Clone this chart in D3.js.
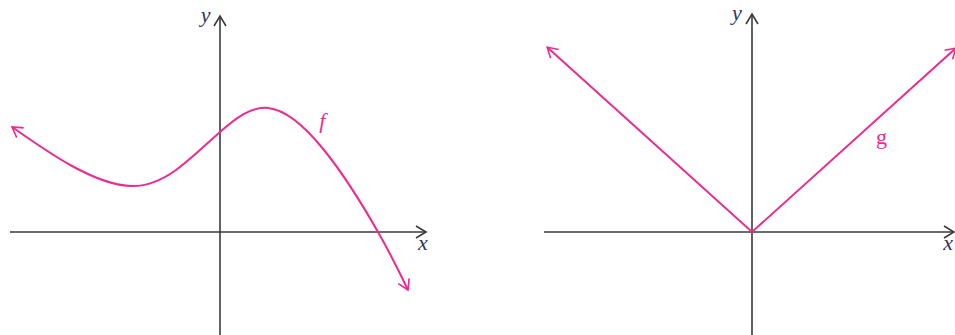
<!DOCTYPE html>
<html>
<head>
<meta charset="utf-8">
<script src="https://cdn.jsdelivr.net/npm/d3@7"></script>
<style>
  body { margin: 0; background: #fff; }
  svg { display: block; }
</style>
</head>
<body>
<svg id="chart"></svg>
<script>
// Points, in graph units (one unit = one grid step)
const fX = [-5.2, -3.7, -2.25, -1.1, 0, 1.2, 2.6, 3.95, 4.7];
const fY = [2.625, 1.65, 1.15, 1.55, 2.5, 3.1, 2.05, 0, -1.45];

const gX = [-5.12, 0, 5.1];
const gY = [4.62, 0, 4.6];

const axisLabels = ["x", "y"];
const curveLabels = ["f", "g"];

const W = 955, H = 335;
const pink = "#ee2a8e";
const ink = "#3a3a3a";
const labelInk = "#2e3560";

const svg = d3.select("#chart").attr("width", W).attr("height", H);

// Arrow heads
const defs = svg.append("defs");
function addMarker(id, colour) {
  defs.append("marker")
      .attr("id", id)
      .attr("viewBox", "-12 -7 14 14")
      .attr("refX", 0)
      .attr("refY", 0)
      .attr("markerWidth", 14)
      .attr("markerHeight", 14)
      .attr("markerUnits", "userSpaceOnUse")
      .attr("orient", "auto-start-reverse")
    .append("path")
      .attr("d", "M-10,-6 L0,0 L-10,6")
      .attr("fill", "none")
      .attr("stroke", colour)
      .attr("stroke-width", 1.6);
}
addMarker("arrowAxis", ink);
addMarker("arrowCurve", pink);

// Scales for the two panels: same unit size, different origins
const unit = 40;
const xL = d3.scaleLinear().domain([0, 1]).range([220, 220 + unit]);
const xR = d3.scaleLinear().domain([0, 1]).range([752, 752 + unit]);
const y = d3.scaleLinear().domain([0, 1]).range([232, 232 - unit]);

function drawAxes(g, x, x0, x1, yTop) {
  g.append("line")
      .attr("x1", x(x0)).attr("x2", x(x1))
      .attr("y1", y(0)).attr("y2", y(0))
      .attr("stroke", ink).attr("stroke-width", 1.6)
      .attr("marker-end", "url(#arrowAxis)");
  g.append("line")
      .attr("x1", x(0)).attr("x2", x(0))
      .attr("y1", y(-2.6)).attr("y2", y(yTop))
      .attr("stroke", ink).attr("stroke-width", 1.6)
      .attr("marker-end", "url(#arrowAxis)");
}

const left = svg.append("g");
const right = svg.append("g");

drawAxes(left, xL, -5.25, 5.15, 5.4);
drawAxes(right, xR, -5.2, 5.05, 5.45);

// Curve f
const fPts = fX.map((d, i) => [d, fY[i]]);
left.append("path")
    .datum(fPts)
    .attr("fill", "none")
    .attr("stroke", pink)
    .attr("stroke-width", 2)
    .attr("marker-start", "url(#arrowCurve)")
    .attr("marker-end", "url(#arrowCurve)")
    .attr("d", d3.line().x(d => xL(d[0])).y(d => y(d[1])).curve(d3.curveNatural));

// Curve g
const gPts = gX.map((d, i) => [d, gY[i]]);
right.append("path")
    .datum(gPts)
    .attr("fill", "none")
    .attr("stroke", pink)
    .attr("stroke-width", 2)
    .attr("marker-start", "url(#arrowCurve)")
    .attr("marker-end", "url(#arrowCurve)")
    .attr("d", d3.line().x(d => xR(d[0])).y(d => y(d[1])));

// Labels
const serif = "'Liberation Serif', 'DejaVu Serif', serif";
function label(g, text, px, py, colour, italic) {
  g.append("text")
      .attr("x", px).attr("y", py)
      .attr("font-family", serif)
      .attr("font-size", 22)
      .attr("font-style", italic ? "italic" : "normal")
      .attr("fill", colour)
      .text(text);
}
label(left, axisLabels[1], xL(-0.48), y(5.25), labelInk, true);
label(left, axisLabels[0], xL(4.95), y(-0.45), labelInk, true);
label(left, curveLabels[0], xL(2.48), y(2.6), pink, true);

label(right, axisLabels[1], xR(-0.5), y(5.3), labelInk, true);
label(right, axisLabels[0], xR(4.78), y(-0.45), labelInk, true);
label(right, curveLabels[1], xR(3.1), y(2.2), pink, false);
</script>
</body>
</html>
